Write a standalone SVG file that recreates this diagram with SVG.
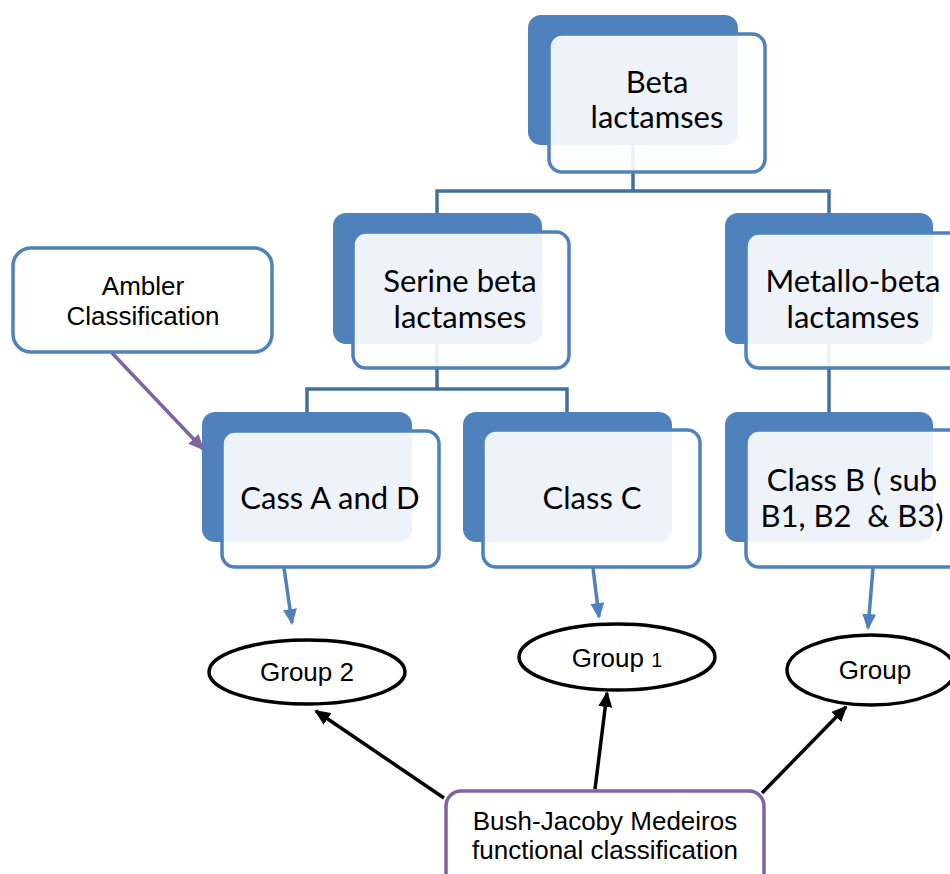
<svg xmlns="http://www.w3.org/2000/svg" width="950" height="874" viewBox="0 0 950 874">
<style>
.back{fill:#4f81bd;}
.front{fill:#ffffff;fill-opacity:0.9;stroke:#4f81bd;stroke-width:3.5;}
.t{font-family:Lato,"Open Sans",sans-serif;font-size:31px;fill:#000;text-anchor:middle;}
.a{font-family:"Liberation Sans",Arial,sans-serif;font-size:26px;fill:#000;text-anchor:middle;}
.tree{fill:none;stroke:#41719c;stroke-width:3.5;}
.blue{stroke:#4f81bd;stroke-width:3.5;fill:none;}
.blk{stroke:#000;stroke-width:3.5;fill:none;}
.pur{stroke:#8064a2;stroke-width:3.5;fill:none;}
.ell{fill:#fff;stroke:#000;stroke-width:3.5;}
</style>
<defs>
<marker id="mb" markerUnits="userSpaceOnUse" markerWidth="16" markerHeight="14" refX="14" refY="7" orient="auto"><path d="M0,0 L16,7 L0,14 z" fill="#4f81bd"/></marker>
<marker id="mk" markerUnits="userSpaceOnUse" markerWidth="16" markerHeight="14" refX="14" refY="7" orient="auto"><path d="M0,0 L16,7 L0,14 z" fill="#000"/></marker>
<marker id="mp" markerUnits="userSpaceOnUse" markerWidth="16" markerHeight="14" refX="14" refY="7" orient="auto"><path d="M0,0 L16,7 L0,14 z" fill="#8064a2"/></marker>
</defs>
<g id="connectors">
<path class="tree" d="M633,145 V191 M437,213 V191 H829 V213"/>
<path class="tree" d="M437,344 V389 M307,412 V389 H567 V412"/>
<path class="tree" d="M829,344 V412"/>
</g>
<g id="beta"><rect class="back" x="528" y="15" width="210" height="130" rx="13"/><rect class="front" x="549" y="34" width="216" height="138" rx="13"/><text class="t" x="657" y="93">Beta</text><text class="t" x="657" y="128">lactamses</text></g>
<g id="serine"><rect class="back" x="333" y="213" width="209" height="131" rx="13"/><rect class="front" x="353" y="232" width="216" height="136" rx="13"/><text class="t" x="460" y="292">Serine beta</text><text class="t" x="460" y="328">lactamses</text></g>
<g id="metallo"><rect class="back" x="725" y="213" width="208" height="131" rx="13"/><rect class="front" x="746" y="233" width="216" height="135" rx="13"/><text class="t" x="853" y="292">Metallo-beta</text><text class="t" x="853" y="328">lactamses</text></g>
<g id="classAD"><rect class="back" x="202" y="412" width="210" height="130" rx="13"/><rect class="front" x="222" y="431" width="217" height="136" rx="13"/><text class="t" x="330" y="509">Cass A and D</text></g>
<g id="classC"><rect class="back" x="463" y="412" width="209" height="130" rx="13"/><rect class="front" x="483" y="430" width="217" height="137" rx="13"/><text class="t" x="592" y="509">Class C</text></g>
<g id="classB"><rect class="back" x="725" y="412" width="208" height="130" rx="13"/><rect class="front" x="746" y="430" width="216" height="137" rx="13"/><text class="t" x="852" y="491">Class B ( sub</text><text class="t" x="852" y="527" xml:space="preserve">B1, B2  &amp; B3)</text></g>
<g id="ambler"><rect x="13" y="248" width="259" height="104" rx="18" fill="#fff" stroke="#4f81bd" stroke-width="3.5"/><text class="a" x="143" y="295">Ambler</text><text class="a" x="143" y="325">Classification</text></g>
<g id="group2"><ellipse class="ell" cx="307" cy="672" rx="98" ry="32"/><text class="a" x="307" y="681">Group 2</text></g>
<g id="group1"><ellipse class="ell" cx="617" cy="657" rx="98" ry="33"/><text class="a" x="617" y="667">Group <tspan font-size="20">1</tspan></text></g>
<g id="group"><ellipse class="ell" cx="871" cy="670" rx="84" ry="35"/><text class="a" x="875" y="679">Group</text></g>
<g id="bush"><rect x="446" y="791" width="318" height="100" rx="15" fill="#fff" stroke="#8064a2" stroke-width="3.5"/><text class="a" x="605" y="830">Bush-Jacoby Medeiros</text><text class="a" x="605" y="859">functional classification</text></g>
<g id="arrows">
<line class="blue" x1="284" y1="568" x2="292" y2="623" marker-end="url(#mb)"/>
<line class="blue" x1="593" y1="568" x2="599" y2="617" marker-end="url(#mb)"/>
<line class="blue" x1="873" y1="568" x2="868" y2="628" marker-end="url(#mb)"/>
<line class="pur" x1="112" y1="353" x2="203" y2="449" marker-end="url(#mp)"/>
<line class="blk" x1="444" y1="798" x2="316" y2="711" marker-end="url(#mk)"/>
<line class="blk" x1="595" y1="789" x2="607" y2="693" marker-end="url(#mk)"/>
<line class="blk" x1="762" y1="793" x2="846" y2="707" marker-end="url(#mk)"/>
</g>
</svg>
